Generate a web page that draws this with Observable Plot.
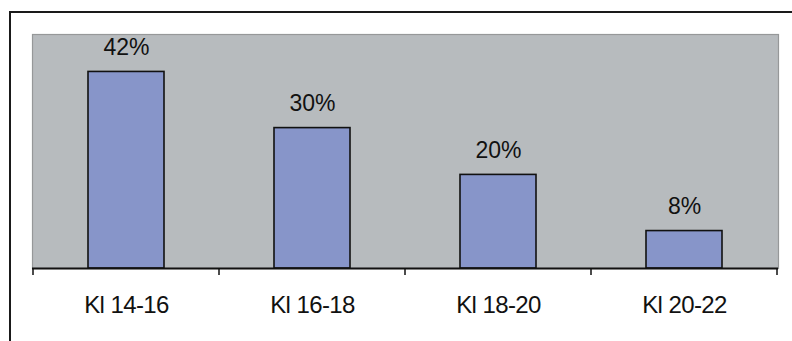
<!DOCTYPE html>
<html><head><meta charset="utf-8">
<script src="https://cdn.jsdelivr.net/npm/d3@7"></script>
<script src="https://cdn.jsdelivr.net/npm/@observablehq/plot@0.6"></script>
<style>
html,body{margin:0;padding:0;background:#fff;width:792px;height:341px;overflow:hidden}
#wrap{position:relative;width:792px;height:341px}
#border{position:absolute;left:9px;top:11px;width:820px;height:400px;border-left:2px solid #1a1a1a;border-top:2px solid #1a1a1a}
#chart{position:absolute;left:0;top:0}
.xlab text{letter-spacing:-0.6px}
</style></head><body>
<div id="wrap"><div id="border"></div><div id="chart"></div></div>
<script>
const categories = ["Kl 14-16", "Kl 16-18", "Kl 18-20", "Kl 20-22"];
const values = [42, 30, 20, 8];
const yDomain = [0, 50];

const data = categories.map((c, i) => ({cat: c, value: values[i]}));

const boundaryTicks = (index, scales) => {
  const x = scales.x, y = scales.y;
  const bw = x.bandwidth();
  const step = x.step();
  const gap = (step - bw) / 2;
  const pos = categories.map(c => x(c) - gap);
  pos.push(x(categories[categories.length - 1]) + bw + gap);
  const g = d3.create("svg:g");
  g.selectAll("line").data(pos).join("line")
    .attr("x1", d => d).attr("x2", d => d)
    .attr("y1", y(0)).attr("y2", y(0) + 7)
    .attr("stroke", "#111").attr("stroke-width", 1.5);
  return g.node();
};

const chart = Plot.plot({
  width: 792,
  height: 341,
  marginLeft: 32,
  marginRight: 14,
  marginTop: 34,
  marginBottom: 73,
  style: {fontFamily: "'Liberation Sans', Arial, sans-serif", background: "transparent", color: "#111"},
  x: {domain: categories, paddingInner: 0.592, paddingOuter: 0.296, label: null},
  y: {domain: yDomain, axis: null},
  marks: [
    Plot.frame({fill: "#b7bbbe", stroke: "#969899", strokeWidth: 1.2}),
    Plot.barY(data, {x: "cat", y: "value", fill: "#8795c9", stroke: "#111", strokeWidth: 1.6}),
    Plot.ruleY([0], {stroke: "#111", strokeWidth: 2}),
    boundaryTicks,
    Plot.text(data, {x: "cat", y: "value", text: d => d.value + "%", dy: -17, lineAnchor: "bottom", fontSize: 23, fill: "#111"}),
    Plot.axisX({tickSize: 0, tickPadding: 27, fontSize: 24, fill: "#111", label: null, className: "xlab"})
  ]
});
document.getElementById("chart").appendChild(chart);
</script>
</body></html>
